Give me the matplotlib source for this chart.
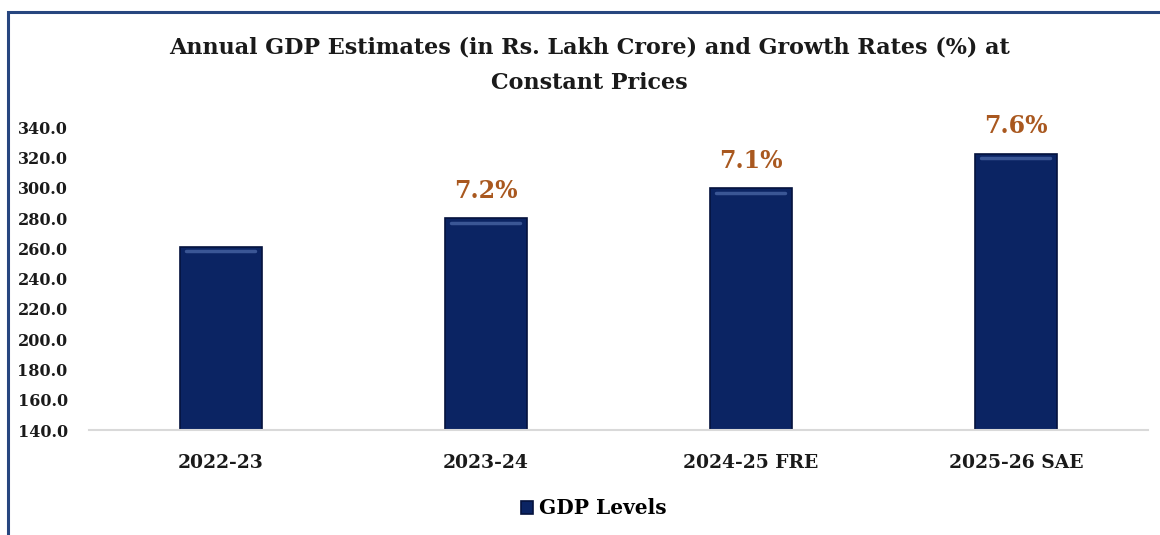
#!/usr/bin/env python3
"""
Annual GDP estimates (Rs. Lakh Crore) with growth rates, bar chart.
"""

import matplotlib.pyplot as plt
import matplotlib.patches as patches

# Data
years = ['2022-23', '2023-24', '2024-25 FRE', '2025-26 SAE']
gdp_levels = [260.9, 279.7, 299.6, 322.5]
growth_labels = ['', '7.2%', '7.1%', '7.6%']
y_ticks = [140, 160, 180, 200, 220, 240, 260, 280, 300, 320, 340]

FONT = ['DejaVu Serif']
NAVY = '#0b2463'
BROWN = '#a9581f'


def create_chart():
    plt.rcParams['font.family'] = FONT
    plt.rcParams['font.weight'] = 'bold'

    fig = plt.figure(figsize=(11.6, 5.35), dpi=100)
    fig.patch.set_facecolor('white')

    # frame around the chart (only top and left edges are inside the picture)
    frame = patches.Rectangle((8 / 1160, -0.2), 1.2, 1.2 - 12 / 535,
                              transform=fig.transFigure, fill=False,
                              edgecolor='#27467f', linewidth=2.2, zorder=0)
    fig.patches.append(frame)

    ax = fig.add_axes([0.0763, 0.196, 0.9137, 0.5664])
    x = range(len(years))
    bars = ax.bar(x, gdp_levels, width=0.31, color=NAVY,
                  edgecolor='#04123d', linewidth=1.2, zorder=2,
                  label='GDP Levels')

    # light bevel line near the top of each bar
    for rect in bars:
        x0 = rect.get_x()
        w = rect.get_width()
        h = rect.get_height() + rect.get_y()
        ax.plot([x0 + w * 0.08, x0 + w * 0.92], [h - 2.8, h - 2.8],
                color='#5a78b8', linewidth=2.5, alpha=0.6,
                solid_capstyle='round', zorder=3)

    for xi, val, lab in zip(x, gdp_levels, growth_labels):
        if lab:
            ax.text(xi, val + 18, lab, ha='center', va='center',
                    fontsize=17, color=BROWN, fontweight='bold')

    ax.set_ylim(140, 340)
    ax.set_xlim(-0.5, len(years) - 0.5)
    ax.set_yticks(y_ticks)
    ax.set_yticklabels([f'{t:.1f}' for t in y_ticks], fontsize=11.5)
    ax.set_xticks(list(x))
    ax.set_xticklabels(years, fontsize=13.5)
    ax.tick_params(axis='both', length=0, colors='#1a1a1a')
    ax.tick_params(axis='x', pad=17)
    ax.tick_params(axis='y', pad=15)
    for side in ['top', 'right', 'left']:
        ax.spines[side].set_visible(False)
    ax.spines['bottom'].set_color('#d9d9d9')
    ax.spines['bottom'].set_linewidth(1.5)

    fig.text(0.508, 0.878, 'Annual GDP Estimates (in Rs. Lakh Crore) and Growth Rates (%) at\nConstant Prices',
             ha='center', va='center', fontsize=16, fontweight='bold',
             color='#1a1a1a', linespacing=1.75)

    fig.legend(handles=[bars], labels=['GDP Levels'],
               loc='center', bbox_to_anchor=(0.512, 0.05),
               frameon=False, fontsize=14.5, handlelength=0.6,
               handleheight=0.6, handletextpad=0.3)

    fig.savefig('out.png', dpi=100)
    plt.close(fig)


if __name__ == '__main__':
    create_chart()
